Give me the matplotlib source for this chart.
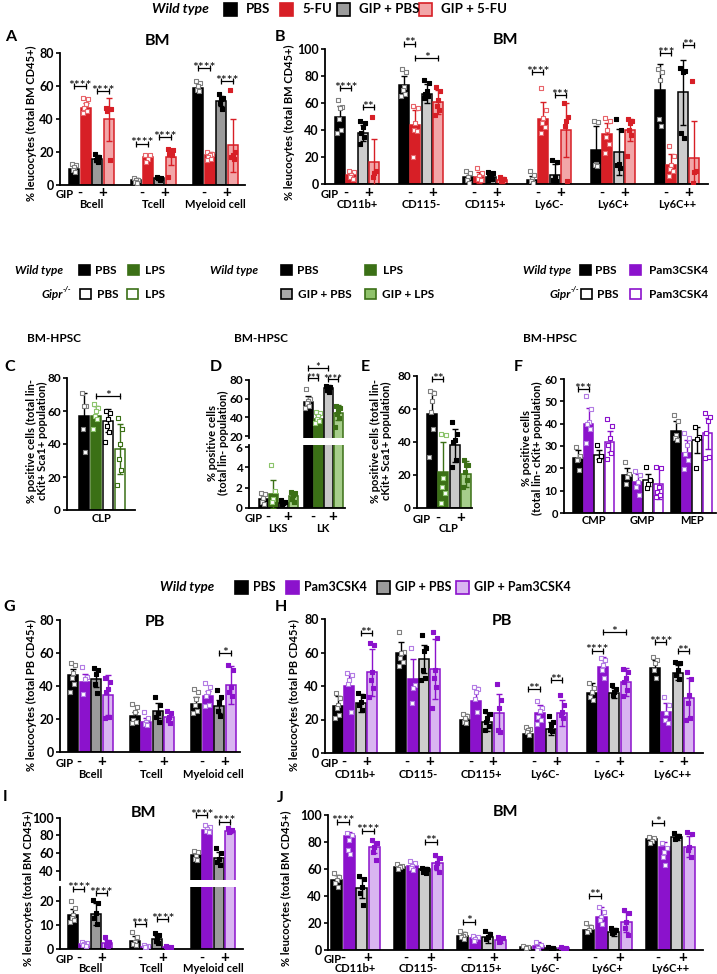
import matplotlib
matplotlib.use('Agg')
import matplotlib.pyplot as plt
from matplotlib.patches import Rectangle
import numpy as np

plt.rcParams['font.family'] = ['Lato', 'DejaVu Sans']
plt.rcParams['font.weight'] = 'bold'

W, H = 717, 974

######### Data #########
cells = ['Bcell', 'Tcell', 'Myeloid cell']
markers6 = ['CD11b+', 'CD115-', 'CD115+', 'Ly6C-', 'Ly6C+', 'Ly6C++']

# Panel A: BM, 5-FU  (order: PBS, 5-FU, GIP+PBS, GIP+5-FU)
a_mean = [[10, 3, 59], [47, 17, 18], [16, 4, 51], [40, 17, 24]]
a_sd = [[3, 1, 3], [3, 2, 2], [2, 1, 3], [13, 5, 16]]
a_pts = [
    [[13, 12, 11, 9, 8], [4, 3, 3, 2, 1], [63, 62, 60, 58, 57]],
    [[53, 52, 49, 47, 45, 44], [18.5, 18, 16, 14], [20, 19, 18, 17, 16, 15]],
    [[19, 17, 16, 15, 14], [5, 4, 4, 4, 3], [55, 53, 52, 50, 46]],
    [[47, 46, 46, 45, 15], [22, 21, 20, 19, 18, 5], [58, 20, 18, 17, 16]],
]
a_sig = [(0, 0, 1, 60, '****'), (0, 2, 3, 57, '****'), (1, 0, 1, 25, '****'),
         (1, 2, 3, 29, '****'), (2, 0, 1, 71, '****'), (2, 2, 3, 63, '****')]

# Panel B: BM myeloid, 5-FU
b_mean = [[50, 73, 5, 3, 25, 70], [7, 44, 5, 48, 37, 14],
          [38, 67, 5, 7, 24, 68], [16, 61, 3, 40, 40, 19]]
b_sd = [[8, 7, 4, 3, 18, 19], [3, 11, 4, 13, 8, 8],
        [6, 7, 3, 8, 17, 24], [17, 9, 2, 20, 8, 28]]
b_pts = [
    [[62, 57, 56, 48, 40, 38], [85, 83, 72, 70, 67, 65], [10, 8, 5, 3, 1],
     [10, 7, 4, 2, 1], [47, 46, 15, 14, 13], [85, 83, 77, 48, 43]],
    [[10, 9, 7, 5, 4], [58, 56, 45, 40, 39, 20], [12, 8, 6, 4, 3],
     [71, 55, 49, 45, 42, 38], [49, 47, 40, 35, 30, 23], [28, 21, 14, 11, 10, 6]],
    [[47, 45, 42, 38, 35, 30], [77, 75, 69, 67, 65, 64], [9, 8, 7, 5, 4, 3],
     [18, 16, 5, 3, 2], [48, 40, 15, 14, 12], [86, 84, 83, 38, 34]],
    [[50, 10, 8, 5], [72, 69, 62, 58, 55, 51], [5, 4, 3, 2],
     [60, 50, 47, 43, 2], [48, 47, 45, 40, 36, 21], [76, 10, 9, 1]],
]
b_sig = [(0, 0, 1, 71, '****'), (0, 2, 3, 57, '**'), (1, 0, 1, 104, '**'),
         (1, 1, 3, 93, '*'), (3, 0, 1, 83, '****'), (3, 2, 3, 66, '***'),
         (5, 0, 1, 97, '***'), (5, 2, 3, 103, '**')]

# Panel C: CLP, WT / Gipr-/- with LPS
c_mean = [[57], [57], [54], [37]]
c_sd = [[14], [6], [7], [15]]
c_pts = [[[71, 63, 63, 49, 35]], [[64, 62, 60, 57, 55, 49]],
         [[60, 59, 55, 51, 47, 41]], [[56, 49, 40, 31, 24, 15]]]
c_sig = [(0, 1, 3, 69, '*')]

# Panel D: LKS / LK with GIP and LPS
d_groups = ['LKS', 'LK']
d_mean = [[0.9, 57], [1.4, 38], [0.5, 71], [1.15, 45]]
d_sd = [[0.4, 6], [1.4, 5], [0.15, 4], [0.45, 8]]
d_pts = [
    [[1.5, 1.4, 1.0, 0.6, 0.35], [70, 60, 58, 55, 52, 50]],
    [[4.2, 1.7, 0.9, 0.6], [46, 45, 42, 38, 36, 34]],
    [[0.75, 0.6, 0.5, 0.35], [74, 73, 71, 69, 67]],
    [[1.6, 1.5, 1.25, 0.9, 0.6], [52, 50, 47, 44, 39, 30]],
]
d_sig = [(1, 0, 1, 82, '***'), (1, 2, 3, 81, '****'), (1, 0, 2, 93, '*')]

# Panel E: CLP with GIP and LPS
e_mean = [[57], [22], [38], [20.5]]
e_sd = [[14], [18], [10], [8]]
e_pts = [[[71, 70, 65, 58, 48, 31]], [[45, 44, 18, 13, 9, 3]],
         [[52, 45, 41, 40, 29, 25]], [[29, 26, 26, 22, 17, 13]]]
e_sig = [(0, 0, 1, 78, '**')]

# Panel F: CMP / GMP / MEP, WT / Gipr-/- with Pam3CSK4
f_groups = ['CMP', 'GMP', 'MEP']
f_mean = [[24.7, 17, 36.5], [40, 14, 26.7], [26, 14.7, 32.7], [32, 13.2, 35.7]]
f_sd = [[3.3, 3, 4.5], [7, 3.5, 6], [2, 2.7, 6], [4.5, 7, 7]]
f_pts = [
    [[29.7, 25.5, 24, 23.7, 19.2], [22.7, 17.5, 16.2, 13.2], [44, 41, 35, 33.5, 32.7]],
    [[52.6, 46.6, 40.6, 40, 37.5, 31.2], [19, 17, 14, 11.7, 8], [35.7, 33.5, 30.5, 26.5, 23.7, 19.5]],
    [[30.4, 25.5, 23.7], [20.4, 15, 13.2, 11.4], [38.7, 34, 33, 20]],
    [[42, 39, 33.5, 30.5, 27, 24], [20.4, 20, 11.7, 9.5, 8, 7.2], [44.7, 43, 41, 35.7, 25, 24.5]],
]
f_sig = [(0, 0, 1, 55.5, '***')]

# Panel G: PB, Pam3CSK4
g_mean = [[46.4, 22, 28.8], [42.4, 18, 33.8], [44.4, 25, 27.8], [34.4, 21.4, 40.4]]
g_sd = [[4, 2.5, 4.5], [5, 2.5, 3], [5, 4.5, 4], [12, 3, 11.5]]
g_pts = [
    [[54, 53, 48, 45, 41.4, 36.4], [29, 27.4, 24, 19.4, 18, 17.4], [38.4, 36.4, 32.4, 28.4, 24.8, 23.4]],
    [[51.8, 45.4, 44, 35], [24.4, 20.4, 18.4, 17, 16.4], [41.8, 39.4, 36.4, 33.8, 28.4, 27.8]],
    [[51, 50, 47, 41, 36], [33.6, 28.4, 23.4, 21, 18.4], [37.8, 33.4, 29.4, 24.8, 21.8]],
    [[45, 42.4, 38.4, 36.4, 21.4, 20.4], [25, 23.4, 21.4, 19.4, 17.4], [53, 50, 39.4, 36.4, 33.8]],
]
g_sig = [(2, 2, 3, 60, '*')]

# Panel H: PB myeloid, Pam3CSK4
h_mean = [[28, 59.5, 20, 11.6, 35.6, 50.5], [40, 44, 31, 24, 51.5, 24.2],
          [30, 56, 18.6, 14.6, 36, 48], [48.2, 50, 24, 24, 42.5, 32.6]]
h_sd = [[6, 7, 3.5, 3.6, 6, 5], [7, 12, 8.5, 4.6, 6, 5.4],
        [5.5, 8.5, 5.5, 4, 3, 4.5], [14, 18, 11, 7.6, 8.5, 12]]
h_pts = [
    [[35.6, 32.6, 28.6, 26.6, 22.6, 20.6], [72.4, 60.5, 59.5, 56.5, 54.5, 52], [23.5, 22, 20.6, 18.6, 18],
     [15.6, 14.6, 13.6, 12.6, 11], [41.6, 39, 36.6, 33.6, 31.6], [57.5, 55.5, 53.5, 49.5, 44.5]],
    [[47.6, 46.6, 43.6, 41, 24.6], [62.5, 40.5, 39, 30], [39.5, 38, 36.5, 32.5, 24.5],
     [31, 27, 25, 21.6, 20, 17.6], [56.5, 55.5, 52.5, 49.5, 45], [33.2, 28.6, 23.6, 19.6, 18]],
    [[36, 34, 30.6, 28.6, 25.6], [70.5, 62.5, 61, 49.5, 44.5, 43.5], [25, 23.5, 20.6, 18.6, 16, 13.6],
     [22, 18.6, 16.6, 14, 13.2], [40.5, 38.5, 36.5, 34.5], [54.6, 53.6, 49.6, 46.6, 44]],
    [[65.6, 64.6, 48.6, 43.6, 38.6, 33.2], [72, 68.5, 49.5, 44.5, 39.5, 27], [41, 31.5, 27, 13.6, 12.6],
     [34.6, 28.6, 24.6, 22.6, 20.6], [50, 48.5, 45, 42.5, 37.5, 34], [48.6, 44, 34.6, 29.6, 21, 20]],
]
h_sig = [(0, 2, 3, 71.6, '**'), (3, 0, 1, 38.2, '**'), (3, 2, 3, 43.6, '**'),
         (4, 0, 1, 61, '****'), (4, 1, 3, 72, '*'), (5, 0, 1, 66, '****'), (5, 2, 3, 60.6, '**')]

# Panel I: BM, Pam3CSK4 (broken axis)
i_mean = [[14.1, 3.4, 57.7], [2.2, 1.1, 86], [14.4, 4.1, 54.7], [2.7, 0.8, 84.5]]
i_sd = [[2.5, 2, 5], [0.8, 0.4, 3], [4.5, 1.4, 6], [1.1, 0.3, 2]]
i_pts = [
    [[20, 16.8, 14.1, 12.7, 12, 11.4], [7.3, 5.2, 3.1, 2.2, 1.8], [62.3, 61.5, 56.6, 52.8, 52]],
    [[3.1, 2.7, 2.2, 1.8, 1.5], [1.8, 1.4, 1.1, 0.8], [91.7, 89.8, 86.8, 85.3, 84.2]],
    [[20.3, 19.2, 14.8, 12.7, 10.3], [6.8, 5.9, 4.5, 3.6, 2.5], [65.3, 60.4, 52.8, 50.2, 46.4]],
    [[4.9, 3.1, 2.5, 1.8, 1.4], [1.4, 1.1, 0.8, 0.5], [88, 86, 85, 84.2]],
]
i_sig_low = [(0, 0, 1, 25, '****'), (0, 2, 3, 23, '****'), (1, 0, 1, 10.4, '***'), (1, 2, 3, 12.4, '****')]
i_sig_up = [(2, 0, 1, 103, '****'), (2, 2, 3, 95.5, '****')]

# Panel J: BM myeloid, Pam3CSK4
j_mean = [[51.9, 61.2, 10.4, 2.5, 14.8, 82], [84.4, 62.2, 8.6, 3.2, 24.7, 76.5],
          [45.7, 59.8, 9.4, 1.7, 13.6, 83.5], [76, 64.2, 7.4, 1.7, 21, 76.5]]
j_sd = [[4, 1.8, 3.2, 0.7, 3.7, 2], [3.3, 3.2, 1.3, 3, 7.4, 3.7],
        [7.3, 1.4, 4.2, 0.5, 2.9, 2.2], [4.3, 4.6, 2.5, 0.5, 7.4, 7.6]]
j_pts = [
    [[57.3, 54.3, 51.9, 49.4, 46.9], [63.5, 62.2, 61.2, 59.8], [14.1, 11.9, 10.4, 9.4, 7.9],
     [3.2, 2.5, 1.7], [19.8, 17.3, 14.8, 13.6], [84, 82.7, 80.7, 79]],
    [[86.4, 85.2, 81.5, 74, 71], [66.2, 64.2, 62.2, 60.5, 59.3], [10.4, 9.4, 7.9, 6.9],
     [6.2, 3.7, 1.2, 0.2], [32.1, 28.4, 24.7, 22.2, 19.3], [79, 75.8, 72.8, 68.6, 63]],
    [[54.8, 52.3, 46.9, 42, 33.3], [60.5, 59.8, 58.8, 58, 56.8], [14.3, 11.9, 9.9, 7.9],
     [2.5, 1.7, 1.2], [16, 14.8, 13.6, 12.8], [86.4, 84.4, 83.2, 82]],
    [[81.5, 79.5, 76.5, 72.8, 66.7], [70.4, 67.9, 64.7, 61.2, 58], [9.9, 8.6, 7.4, 5.9],
     [2.2, 1.7, 1.2], [29.6, 27.2, 21, 16, 11.1], [87.7, 85.9, 76.5, 74, 68.6]],
]
j_sig = [(0, 0, 1, 95, '****'), (0, 2, 3, 88.4, '****'), (1, 2, 3, 80.2, '**'),
         (2, 0, 1, 21, '*'), (4, 0, 1, 40.2, '**'), (5, 0, 1, 94.3, '*')]

######### Styles #########
RED = '#d71f26'
PINK = '#f2a6a8'
PURPLE = '#8b12cc'
LILAC = '#d9b5f1'
GREEN = '#3b7016'
LGREEN = '#a6cd8b'


def sty(face, edge, err, pface, pedge):
    return dict(face=face, edge=edge, err=err, pface=pface, pedge=pedge)


PBS = sty('black', 'black', 'black', 'white', '#808080')
fu_styles = [PBS, sty(RED, RED, RED, 'white', '#e8646a'),
             sty('#9b9b9b', 'black', 'black', 'black', 'black'), sty(PINK, RED, RED, RED, RED)]
fu_styles_l = [PBS, fu_styles[1], sty('#cdcdcd', 'black', 'black', 'black', 'black'), fu_styles[3]]
c_styles = [PBS, sty(GREEN, GREEN, GREEN, 'white', '#8cc46c'),
            sty('white', 'black', 'black', 'white', 'black'), sty('white', GREEN, GREEN, 'white', GREEN)]
de_styles = [PBS, c_styles[1], sty('#c8c8c8', 'black', 'black', 'black', 'black'),
             sty(LGREEN, GREEN, GREEN, GREEN, GREEN)]
f_styles = [PBS, sty(PURPLE, PURPLE, PURPLE, 'white', '#b37ce4'),
            sty('white', 'black', 'black', 'white', 'black'), sty('white', PURPLE, PURPLE, 'white', PURPLE)]
pam_styles = [PBS, f_styles[1], sty('#9b9b9b', 'black', 'black', 'black', 'black'),
              sty(LILAC, PURPLE, PURPLE, PURPLE, PURPLE)]
pam_styles_l = [PBS, f_styles[1], sty('#cdcdcd', 'black', 'black', 'black', 'black'), pam_styles[3]]

JIT = [-0.22, 0.22, 0.0, -0.12, 0.12, -0.28, 0.28]

######### Geometry (figure pixels) #########
gA = dict(left=60, right=245, top=53.3, bottom=185, x0=74, bstep=11.5, gstep=62, bw=10)
gB = dict(left=325, right=708, top=49, bottom=184, x0=340, bstep=11.3, gstep=64, bw=10)
gC = dict(left=67, right=135, top=378, bottom=510, x0=84, bstep=12, gstep=0, bw=10.5)
gD = dict(left=249, right=345, top=380, bottom=438, top2=445, bottom2=508, x0=263, bstep=10, gstep=45, bw=9)
gE = dict(left=417, right=472, top=376, bottom=508, x0=432, bstep=11.3, gstep=0, bw=10)
gF = dict(left=564, right=716, top=379, bottom=513, x0=578, bstep=10.5, gstep=49, bw=9.5)
gG = dict(left=60, right=240, top=620, bottom=752, x0=73, bstep=11.5, gstep=61.5, bw=10)
gH = dict(left=325, right=703, top=619, bottom=753, x0=338, bstep=11.3, gstep=63.4, bw=10)
gI = dict(left=60, right=243, top=817.7, bottom=879.5, top2=887.3, bottom2=949.3, x0=73, bstep=11.3, gstep=61.5, bw=10)
gJ = dict(left=328, right=703, top=815, bottom=950, x0=336.5, bstep=12.6, gstep=63, bw=11)

fig = plt.figure(figsize=(W / 100, H / 100), dpi=100)
ov = fig.add_axes([0, 0, 1, 1], zorder=10)
ov.set_xlim(0, W)
ov.set_ylim(H, 0)
ov.axis('off')


def px_axes(left, top, right, bottom):
    ax = fig.add_axes([left / W, 1 - bottom / H, (right - left) / W, (bottom - top) / H])
    ax.set_xlim(0, right - left)
    ax.patch.set_alpha(0)
    for s in ['top', 'right']:
        ax.spines[s].set_visible(False)
    ax.spines['left'].set_linewidth(1.3)
    ax.spines['bottom'].set_linewidth(1.3)
    ax.set_xticks([])
    return ax


def set_y(ax, ylim, yticks, fs=9, bottom=True):
    ax.set_ylim(*ylim)
    ax.set_yticks(yticks)
    ax.tick_params(axis='y', length=3, width=1.2, labelsize=fs, pad=1.5)
    if not bottom:
        ax.spines['bottom'].set_visible(False)


def bar_px(geo, g, k):
    return geo['x0'] + g * geo['gstep'] + k * geo['bstep']


def draw_bars(ax, geo, means, sds, points, styles, msize):
    for k, st in enumerate(styles):
        xs = [bar_px(geo, g, k) - geo['left'] for g in range(len(means[k]))]
        ax.bar(xs, means[k], width=geo['bw'], color=st['face'], edgecolor=st['edge'],
               linewidth=1.1, zorder=2)
        ax.errorbar(xs, means[k], yerr=sds[k], fmt='none', ecolor=st['err'],
                    elinewidth=1, capsize=2.2, capthick=1, zorder=3)
        for x, pts in zip(xs, points[k]):
            offs = np.array(JIT[:len(pts)]) * geo['bw']
            ax.scatter(x + offs, pts, marker='s', s=msize, facecolor=st['pface'],
                       edgecolor=st['pedge'], linewidth=0.8, zorder=4)


def bracket(ax, geo, g, i, j, y, txt, fs=10):
    x1 = bar_px(geo, g, i) - geo['left']
    x2 = bar_px(geo, g, j) - geo['left']
    ax.plot([x1, x2], [y, y], color='black', lw=0.9, clip_on=False, zorder=5)
    ax.plot([x1, x2], [y, y], ls='none', marker='|', ms=5, mew=0.9, color='black',
            clip_on=False, zorder=5)
    ax.annotate(txt, ((x1 + x2) / 2, y), xytext=(0, -2.6), textcoords='offset points',
                ha='center', va='baseline', fontsize=fs, fontweight='normal',
                annotation_clip=False)


def simple_panel(geo, ylim, yticks, means, sds, points, styles, sig, msize=11, fs=9):
    ax = px_axes(geo['left'], geo['top'], geo['right'], geo['bottom'])
    set_y(ax, ylim, yticks, fs)
    draw_bars(ax, geo, means, sds, points, styles, msize)
    for s in sig:
        bracket(ax, geo, *s)
    return ax


def broken_panel(geo, ylim_u, yt_u, ylim_l, yt_l, means, sds, points, styles, msize=11, fs=9):
    au = px_axes(geo['left'], geo['top'], geo['right'], geo['bottom'])
    al = px_axes(geo['left'], geo['top2'], geo['right'], geo['bottom2'])
    set_y(au, ylim_u, yt_u, fs, bottom=False)
    set_y(al, ylim_l, yt_l, fs)
    draw_bars(au, geo, means, sds, points, styles, msize)
    draw_bars(al, geo, means, sds, points, styles, msize)
    return au, al


def gip_row(geo, labels, y_gip, y_lab, fs=8, gip=True):
    if gip:
        ov.text(geo['left'] - 4, y_gip + 1.5, 'GIP', ha='left', va='center', fontsize=fs)
    for g, lab in enumerate(labels):
        if gip:
            ov.text((bar_px(geo, g, 0) + bar_px(geo, g, 1)) / 2, y_gip, '-', ha='center',
                    va='center', fontsize=fs + 2)
            ov.text((bar_px(geo, g, 2) + bar_px(geo, g, 3)) / 2, y_gip, '+', ha='center',
                    va='center', fontsize=fs + 3)
        ov.text((bar_px(geo, g, 0) + bar_px(geo, g, 3)) / 2, y_lab, lab, ha='center',
                va='center', fontsize=fs)


######### Panels #########
simple_panel(gA, (0, 80), range(0, 81, 20), a_mean, a_sd, a_pts, fu_styles, a_sig)
gip_row(gA, cells, 193, 205)
simple_panel(gB, (0, 100), range(0, 101, 20), b_mean, b_sd, b_pts, fu_styles_l, b_sig)
gip_row(gB, markers6, 193, 204)

simple_panel(gC, (0, 80), range(0, 81, 20), c_mean, c_sd, c_pts, c_styles, c_sig, msize=8, fs=8.5)
gip_row(gC, ['CLP'], 0, 518, gip=False)

du, dl = broken_panel(gD, (18, 80), range(20, 81, 20), (0, 6.2), range(0, 7, 2),
                      d_mean, d_sd, d_pts, de_styles, msize=8, fs=8.5)
for s in d_sig:
    bracket(du, gD, *s, fs=8)
gip_row(gD, d_groups, 517, 528)

simple_panel(gE, (0, 80), range(0, 81, 20), e_mean, e_sd, e_pts, de_styles, e_sig, msize=8, fs=8.5)
gip_row(gE, ['CLP'], 518, 529)

simple_panel(gF, (0, 60), range(0, 61, 10), f_mean, f_sd, f_pts, f_styles, f_sig, msize=8, fs=8)
gip_row(gF, f_groups, 0, 520, gip=False)

simple_panel(gG, (0, 80), range(0, 81, 20), g_mean, g_sd, g_pts, pam_styles, g_sig)
gip_row(gG, cells, 762, 774)
simple_panel(gH, (0, 80), range(0, 81, 20), h_mean, h_sd, h_pts, pam_styles_l, h_sig)
gip_row(gH, markers6, 762, 774)

iu, il = broken_panel(gI, (30, 100), range(40, 101, 20), (0, 25.5), range(0, 21, 10),
                      i_mean, i_sd, i_pts, pam_styles)
for s in i_sig_low:
    bracket(il, gI, *s)
for s in i_sig_up:
    bracket(iu, gI, *s)
gip_row(gI, cells, 958, 969)
simple_panel(gJ, (0, 100), range(0, 101, 20), j_mean, j_sd, j_pts, pam_styles_l, j_sig)
gip_row(gJ, markers6, 958, 969)

######### Labels, titles, legends #########
ylab = '% leucocytes (total BM CD45+)'
ylab_pb = '% leucocytes (total PB CD45+)'
for x, y, t in [(31, 123, ylab), (289, 122, ylab), (31, 695, ylab_pb), (294, 695, ylab_pb),
                (28, 888, ylab), (286, 888, ylab)]:
    ov.text(x, y, t, rotation=90, ha='center', va='center', fontsize=8)
for x, y, t in [(37, 441, '% positive cells (total lin-\ncKit+ Sca1+ population)'),
                (218, 443, '% positive cells\n(total lin- population)'),
                (381, 441, '% positive cells (total lin-\ncKit+ Sca1+ population)'),
                (532, 448, '% positive cells\n(total lin- cKit+ population)')]:
    ov.text(x, y, t, rotation=90, ha='center', va='center', fontsize=8,
            multialignment='center', linespacing=1.0)

for x, y, t in [(5, 37, 'A'), (275, 37, 'B'), (4, 367, 'C'), (210, 367, 'D'), (361, 367, 'E'),
                (514, 367, 'F'), (3, 607, 'G'), (275, 607, 'H'), (3, 797, 'I'), (277, 798, 'J')]:
    ov.text(x, y, t, ha='left', va='center', fontsize=11.5)
for x, y, t in [(157, 41, 'BM'), (506, 40, 'BM'), (155, 622, 'PB'), (502, 621, 'PB'),
                (143, 813, 'BM'), (506, 812, 'BM')]:
    ov.text(x, y, t, ha='center', va='center', fontsize=11.5)
for x in [54, 261, 550]:
    ov.text(x, 338, 'BM-HPSC', ha='center', va='center', fontsize=8.5)


def legend_item(x, y, size, face, edge, label, fs, gap=7):
    ov.add_patch(Rectangle((x, y - size / 2), size, size, facecolor=face, edgecolor=edge, lw=1.2))
    ov.text(x + size + gap, y, label, ha='left', va='center', fontsize=fs)


def wild(x, y, fs, ha='left'):
    ov.text(x, y, 'Wild type', ha=ha, va='center', fontsize=fs, style='italic')


def gipr(xr, y, fs):
    ov.text(xr - 8, y, 'Gipr', ha='right', va='center', fontsize=fs, style='italic')
    ov.text(xr - 8, y - 4, '-/-', ha='left', va='center', fontsize=fs - 3, style='italic')


# top legend
wild(152, 9, 10)
for x, f, e, t in [(224, 'black', 'black', 'PBS'), (280, RED, RED, '5-FU'),
                   (337, '#9b9b9b', 'black', 'GIP + PBS'), (419, PINK, RED, 'GIP + 5-FU')]:
    legend_item(x, 9, 13, f, e, t, 9.5, gap=9)

# second legend row
wild(63, 270, 8.5, ha='right')
legend_item(79, 270, 10.5, 'black', 'black', 'PBS', 8.5, gap=6)
legend_item(128, 270, 10.5, GREEN, GREEN, 'LPS', 8.5, gap=6)
gipr(71, 294, 8.5)
legend_item(80, 294, 10.5, 'white', 'black', 'PBS', 8.5, gap=7)
legend_item(127, 294, 10.5, 'white', GREEN, 'LPS', 8.5, gap=7)

wild(210, 270, 8.5)
legend_item(281, 270, 10.5, 'black', 'black', 'PBS', 8.5, gap=6)
legend_item(365, 270, 10.5, GREEN, GREEN, 'LPS', 8.5, gap=7)
legend_item(281, 294, 10.5, '#aaaaaa', 'black', 'GIP + PBS', 8.5, gap=6)
legend_item(365, 294, 10.5, '#8fc26a', GREEN, 'GIP + LPS', 8.5, gap=6)

wild(571, 270, 8.5, ha='right')
legend_item(580, 270, 10.5, 'black', 'black', 'PBS', 8.5, gap=5)
legend_item(630, 270, 10.5, PURPLE, PURPLE, 'Pam3CSK4', 8.5, gap=9)
gipr(579, 294, 8.5)
legend_item(581, 294, 10.5, 'white', 'black', 'PBS', 8.5, gap=5)
legend_item(630, 294, 10.5, 'white', PURPLE, 'Pam3CSK4', 8.5, gap=9)

# third legend row
wild(160, 587, 9.5)
for x, f, e, t in [(235, 'black', 'black', 'PBS'), (286, PURPLE, PURPLE, 'Pam3CSK4'),
                   (377, '#9b9b9b', 'black', 'GIP + PBS'), (456, LILAC, PURPLE, 'GIP + Pam3CSK4')]:
    legend_item(x, 587, 13, f, e, t, 9, gap=5)

fig.savefig('out.png', dpi=100)
